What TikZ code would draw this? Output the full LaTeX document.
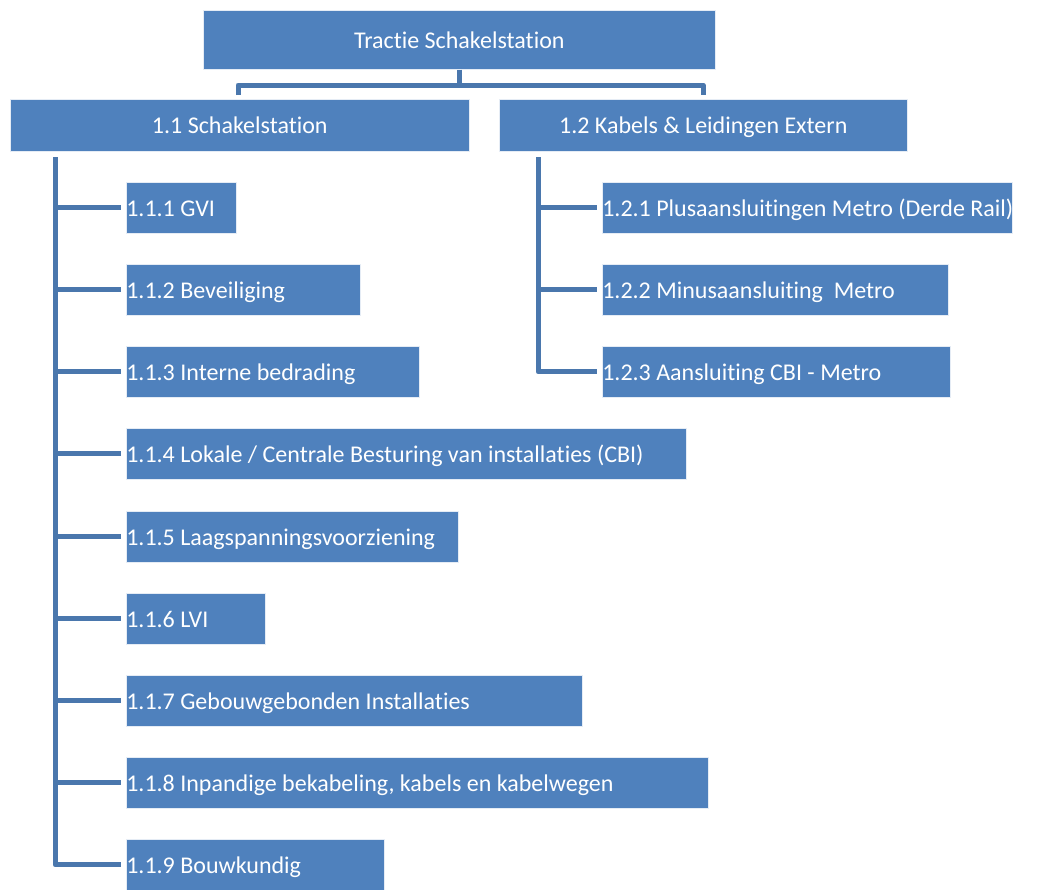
\documentclass[tikz,border=0pt]{standalone}
\usepackage{fontspec}
\setmainfont{Carlito}[Ligatures={NoCommon,NoRequired,NoContextual}]
\definecolor{boxblue}{HTML}{4F81BD}
\definecolor{lineblue}{HTML}{4A77AD}
\begin{document}
\begin{tikzpicture}[x=1pt,y=-1pt,
  box/.style={fill=boxblue,draw=white!85!boxblue,line width=0.6pt,text=white,inner sep=0pt,anchor=north west,text height=22pt,text depth=5pt,font=\fontsize{24}{28}\selectfont},
  cbox/.style={box,align=center},
  lbox/.style={box,minimum height=51pt},
  conn/.style={draw=lineblue,line width=5pt}]
\useasboundingbox (0,0) rectangle (1040,889);
\node[cbox,minimum width=512pt,minimum height=59pt] (top) at (203,10) {Tractie Schakelstation};
\node[cbox,minimum width=459pt,minimum height=52pt] (n11) at (10,99) {1.1 Schakelstation};
\node[cbox,minimum width=408pt,minimum height=52pt] (n12) at (499,99) {1.2 Kabels \& Leidingen Extern};
% left children
\foreach \name/\y/\w/\t in {
  n111/182/110/{1.1.1 GVI},
  n112/264/234/{1.1.2 Beveiliging},
  n113/346/293/{1.1.3 Interne bedrading},
  n114/428/560/{1.1.4 Lokale / Centrale Besturing van installaties (CBI)},
  n115/511/332/{1.1.5 Laagspanningsvoorziening},
  n116/593/139/{1.1.6 LVI},
  n117/675/456/{1.1.7 Gebouwgebonden Installaties},
  n118/757/582/{1.1.8 Inpandige bekabeling, kabels en kabelwegen},
  n119/839/258/{1.1.9 Bouwkundig}}{
  \node[lbox] (\name) at (126,\y) {\makebox[\w pt][l]{\t}};
}
\foreach \name/\y/\w/\t in {
  n121/182/410/{1.2.1 Plusaansluitingen Metro (Derde Rail)},
  n122/264/346/{1.2.2 Minusaansluiting\ \ Metro},
  n123/346/348/{1.2.3 Aansluiting CBI - Metro}}{
  \node[lbox] (\name) at (602,\y) {\makebox[\w pt][l]{\t}};
}
% top bracket
\coordinate (bm) at (459,85);
\coordinate (bl) at (238,95);
\coordinate (br) at (703,95);
\draw[conn] (top.south -| bm) -- (bm);
\draw[conn,line join=round] (bl) |- (bm) -| (br);
% left trunk
\coordinate (lt) at (55,157);
\draw[conn,line join=round,shorten >=5pt] (lt) |- (n119.west);
\foreach \c in {n111,n112,n113,n114,n115,n116,n117,n118}{
  \draw[conn,shorten >=5pt] (lt |- \c.west) -- (\c.west);
}
% right trunk
\coordinate (rt) at (538,157);
\draw[conn,line join=round,shorten >=5pt] (rt) |- (n123.west);
\foreach \c in {n121,n122}{
  \draw[conn,shorten >=5pt] (rt |- \c.west) -- (\c.west);
}
\end{tikzpicture}
\end{document}
